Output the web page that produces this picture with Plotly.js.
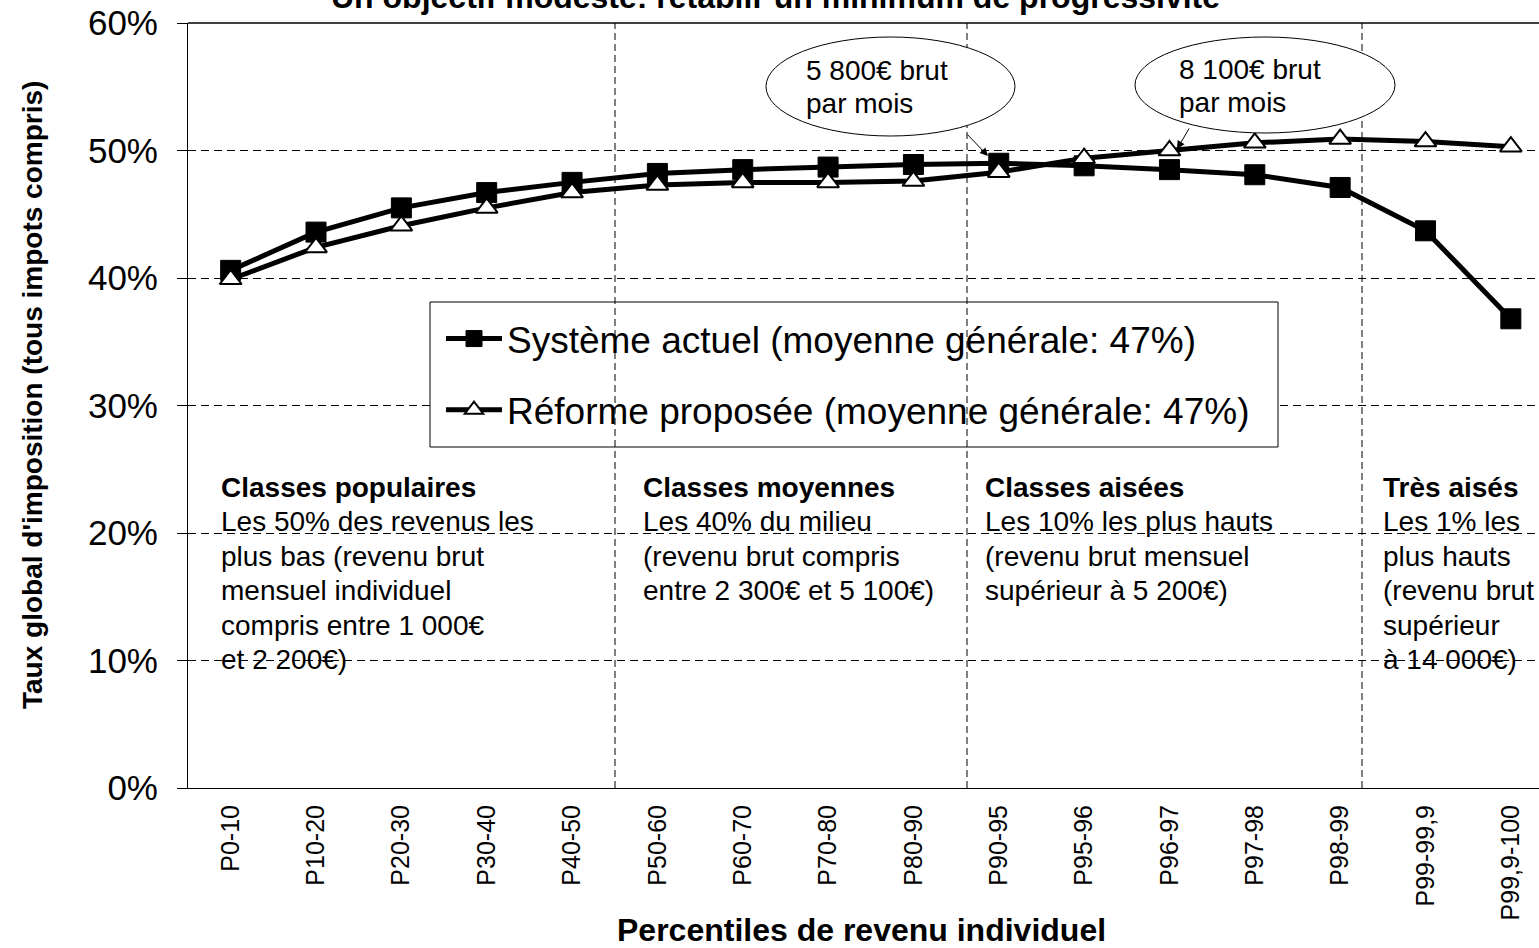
<!DOCTYPE html>
<html>
<head>
<meta charset="utf-8">
<script src="https://cdn.plot.ly/plotly-3.0.1.min.js"></script>
<style>html,body{margin:0;padding:0;background:#fff;overflow:hidden}</style>
</head>
<body>
<div id="chart" style="width:1539px;height:948px"></div>
<script>
// ---------- data ----------
const categories = ['P0-10','P10-20','P20-30','P30-40','P40-50','P50-60','P60-70','P70-80','P80-90','P90-95','P95-96','P96-97','P97-98','P98-99','P99-99,9','P99,9-100'];
const systemeActuel   = [40.6, 43.6, 45.5, 46.7, 47.5, 48.2, 48.5, 48.7, 48.9, 49.0, 48.8, 48.5, 48.1, 47.1, 43.7, 36.8];
const reformeProposee = [39.9, 42.4, 44.1, 45.5, 46.7, 47.3, 47.5, 47.5, 47.6, 48.3, 49.4, 50.0, 50.6, 50.9, 50.7, 50.3];
const seriesNames = ['Système actuel (moyenne générale: 47%)', 'Réforme proposée (moyenne générale: 47%)'];
const yTickValues = [0, 10, 20, 30, 40, 50, 60];
const yTickLabels = ['0%', '10%', '20%', '30%', '40%', '50%', '60%'];
const chartTitle = 'Un objectif modeste: rétablir un minimum de progressivité';
const xTitle = 'Percentiles de revenu individuel';
const yTitle = "Taux global d'imposition (tous impots compris)";
const blockPopulaires = ['Classes populaires','Les 50% des revenus les','plus bas (revenu brut','mensuel individuel','compris entre 1 000€','et 2 200€)'];
const blockMoyennes   = ['Classes moyennes','Les 40% du milieu','(revenu brut compris','entre 2 300€ et 5 100€)'];
const blockAisees     = ['Classes aisées','Les 10% les plus hauts','(revenu brut mensuel','supérieur à 5 200€)'];
const blockTresAises  = ['Très aisés','Les 1% les','plus hauts','(revenu brut','supérieur','à 14 000€)'];
const callout1 = ['5 800€ brut','par mois'];
const callout2 = ['8 100€ brut','par mois'];

// ---------- layout helpers (pixel -> paper) ----------
const W = 1539, H = 948, L = 188, R = 1539, T = 23, B = 788;
const px = v => (v - L) / (R - L);
const py = v => (B - v) / (B - T);
const FONT = 'Liberation Sans, Arial, Helvetica, sans-serif';

const annotations = [];
function textLine(txt, left, baseline, size, bold) {
  annotations.push({
    xref: 'paper', yref: 'paper', x: px(left), y: py(baseline - 0.3465 * size),
    xanchor: 'left', yanchor: 'middle', showarrow: false,
    text: bold ? '<b>' + txt + '</b>' : txt,
    font: {family: FONT, size: size, color: '#000'}
  });
}
function block(lines, left, firstBaseline, step, size) {
  lines.forEach((t, i) => textLine(t, left, firstBaseline + i * step, size, i === 0));
}
block(blockPopulaires, 219, 497, 34.5, 28);
block(blockMoyennes, 641, 497, 34.5, 28);
block(blockAisees, 983, 497, 34.5, 28);
block(blockTresAises, 1381, 497, 34.5, 28);
callout1.forEach((t, i) => textLine(t, 804, 80 + i * 33.5, 28, false));
callout2.forEach((t, i) => textLine(t, 1177, 79 + i * 33.5, 28, false));

// arrows from callouts
annotations.push({xref:'paper', yref:'paper', x: px(988), y: py(156), ax: -22, ay: -23, text: '',
  showarrow: true, arrowhead: 2, arrowsize: 1.6, arrowwidth: 1, arrowcolor: '#000'});
annotations.push({xref:'paper', yref:'paper', x: px(1177), y: py(149), ax: 13, ay: -22, text: '',
  showarrow: true, arrowhead: 2, arrowsize: 1.6, arrowwidth: 1, arrowcolor: '#000'});

// titles
annotations.push({xref:'paper', yref:'paper', x: px(775), y: py(-3), xanchor:'center', yanchor:'middle',
  showarrow:false, text:'<b>' + chartTitle + '</b>', font:{family:FONT, size:32, color:'#000'}});
annotations.push({xref:'paper', yref:'paper', x: px(861), y: py(930), xanchor:'center', yanchor:'middle',
  showarrow:false, text:'<b>' + xTitle + '</b>', font:{family:FONT, size:32, color:'#000'}});
annotations.push({xref:'paper', yref:'paper', x: px(32), y: py(395), xanchor:'center', yanchor:'middle',
  textangle:-90, showarrow:false, text:'<b>' + yTitle + '</b>', font:{family:FONT, size:28, color:'#000'}});

const shapes = [
  // legend box (white, hides horizontal gridlines)
  {type:'rect', xref:'paper', yref:'paper', x0:px(430), x1:px(1278), y0:py(447), y1:py(302),
   fillcolor:'#fff', line:{color:'#000', width:1}, layer:'above'},
  // group separators
  {type:'line', xref:'paper', yref:'paper', x0:px(615), x1:px(615), y0:0, y1:1, line:{color:'#000', width:1, dash:'7px,4px'}, layer:'above'},
  {type:'line', xref:'paper', yref:'paper', x0:px(967), x1:px(967), y0:0, y1:1, line:{color:'#000', width:1, dash:'7px,4px'}, layer:'above'},
  {type:'line', xref:'paper', yref:'paper', x0:px(1362), x1:px(1362), y0:0, y1:1, line:{color:'#000', width:1, dash:'7px,4px'}, layer:'above'},
  // solid top line at 60%
  {type:'line', xref:'paper', yref:'paper', x0:0, x1:1, y0:1, y1:1, line:{color:'#000', width:1.5}, layer:'above'},
  // callout ellipses
  {type:'circle', xref:'paper', yref:'paper', x0:px(766), x1:px(1015), y0:py(136), y1:py(37),
   fillcolor:'#fff', line:{color:'#000', width:1}, layer:'above'},
  {type:'circle', xref:'paper', yref:'paper', x0:px(1135), x1:px(1395), y0:py(133), y1:py(37),
   fillcolor:'#fff', line:{color:'#000', width:1}, layer:'above'}
];

const traces = [
  {type:'scatter', mode:'lines+markers', name: seriesNames[0], x: categories, y: systemeActuel,
   legendgroup:'a', line:{color:'#000', width:5},
   marker:{symbol:'square', size:20, color:'#000', line:{color:'#000', width:1}}},
  {type:'scatter', mode:'lines+markers', name: seriesNames[1], x: categories, y: reformeProposee,
   legendgroup:'b', line:{color:'#000', width:5},
   marker:{symbol:'triangle-up', size:19, color:'#fff', line:{color:'#000', width:2}}}
];

const layout = {
  width: W, height: H,
  margin: {l: L, r: W - R, t: T, b: H - B, pad: 0},
  paper_bgcolor: '#fff', plot_bgcolor: '#fff',
  font: {family: FONT, color: '#000'},
  showlegend: true,
  legend: {x: px(441), xanchor:'left', y: py(308), yanchor:'top', bgcolor:'rgba(0,0,0,0)',
           borderwidth: 0, font:{family: FONT, size: 37, color:'#000'}, itemwidth: 56,
           tracegroupgap: 20, traceorder:'grouped'},
  xaxis: {type:'category', range:[-0.5, 15.33], tickangle:-90, tickfont:{family:FONT, size:25, color:'#000'},
          showline:true, linecolor:'#000', linewidth:1, showgrid:false, zeroline:false, ticks:'',
          ticklabelstandoff: 6, fixedrange:true},
  yaxis: {range:[0, 60], tickmode:'array', tickvals: yTickValues, ticktext: yTickLabels, ticks:'outside', ticklen:10, tickwidth:1, tickcolor:'#000',
          showline:true, linecolor:'#000', linewidth:1, showgrid:true, gridcolor:'#000', gridwidth:1, griddash:'8px,5px',
          zeroline:false, tickfont:{family:FONT, size:35, color:'#000'}, ticklabelstandoff: 12, fixedrange:true},
  shapes: shapes,
  annotations: annotations
};

Plotly.newPlot('chart', traces, layout, {displayModeBar:false, staticPlot:true});
</script>
</body>
</html>
